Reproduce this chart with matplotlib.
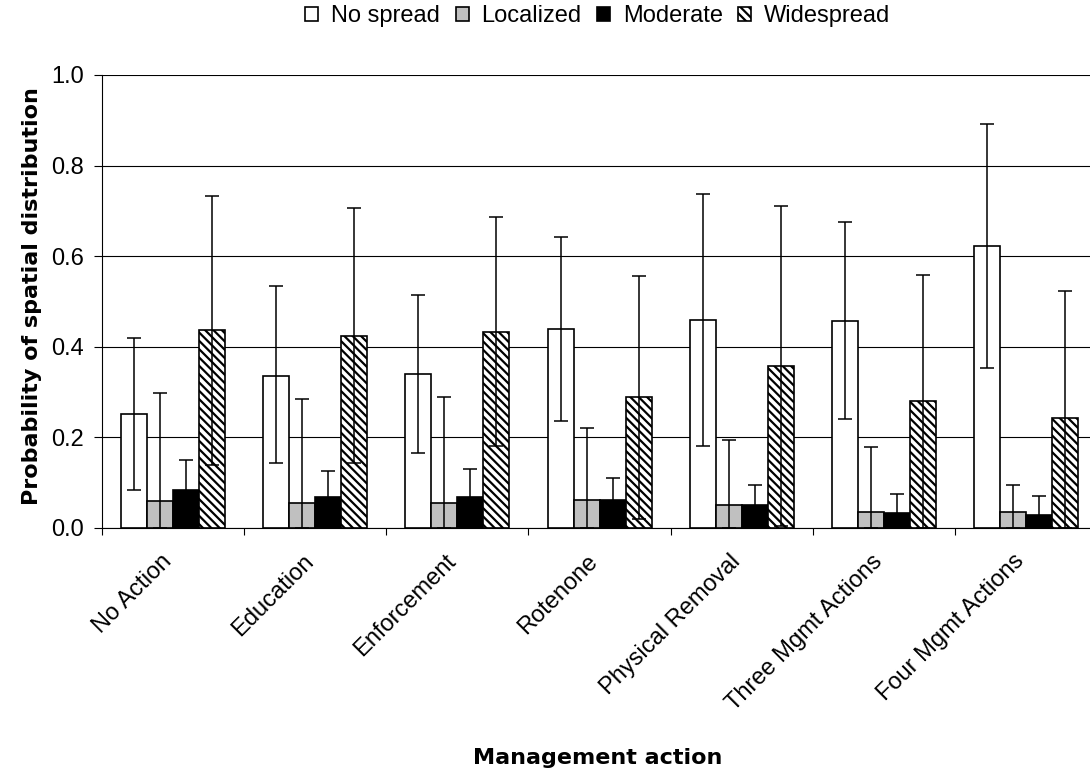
import numpy as np
import matplotlib
matplotlib.use("Agg")
from matplotlib import pyplot as plt

plt.rcParams["font.family"] = ["Liberation Sans", "DejaVu Sans"]
plt.rcParams["hatch.linewidth"] = 1.6

# data
actions = ["No Action", "Education", "Enforcement", "Rotenone",
           "Physical Removal", "Three Mgmt Actions", "Four Mgmt Actions"]
series = ["No spread", "Localized", "Moderate", "Widespread"]

no_spread = [0.252, 0.336, 0.340, 0.439, 0.459, 0.457, 0.623]
localized = [0.060, 0.055, 0.055, 0.062, 0.051, 0.036, 0.035]
moderate = [0.084, 0.068, 0.068, 0.062, 0.051, 0.032, 0.029]
widespread = [0.436, 0.424, 0.433, 0.289, 0.357, 0.281, 0.242]

# lower / upper bounds of the error bars
no_spread_lo = [0.084, 0.143, 0.166, 0.237, 0.182, 0.241, 0.353]
no_spread_hi = [0.419, 0.534, 0.514, 0.642, 0.737, 0.675, 0.892]
localized_lo = [0.0, 0.0, 0.0, 0.0, 0.0, 0.0, 0.0]
localized_hi = [0.297, 0.285, 0.289, 0.221, 0.194, 0.178, 0.095]
moderate_lo = [0.0, 0.0, 0.0, 0.0, 0.0, 0.0, 0.0]
moderate_hi = [0.150, 0.126, 0.130, 0.111, 0.095, 0.075, 0.071]
widespread_lo = [0.139, 0.143, 0.180, 0.020, 0.005, 0.0, 0.0]
widespread_hi = [0.733, 0.706, 0.686, 0.556, 0.711, 0.559, 0.523]

values = [no_spread, localized, moderate, widespread]
lows = [no_spread_lo, localized_lo, moderate_lo, widespread_lo]
highs = [no_spread_hi, localized_hi, moderate_hi, widespread_hi]
facecolors = ["white", "#c0c0c0", "black", "white"]
hatches = [None, None, None, "\\\\\\\\"]

fs = 17

fig = plt.figure(figsize=(10.9, 7.77), dpi=100)
ax = fig.add_axes([0.0936, 0.3205, 0.9129, 0.583])

x = np.arange(len(actions)) + 0.5
width = 0.183
handles = []
for i, (vals, lo, hi) in enumerate(zip(values, lows, highs)):
    vals = np.array(vals)
    pos = x + (i - 1.5) * width
    bars = ax.bar(pos, vals, width, color=facecolors[i], edgecolor="black",
                  linewidth=1.2, hatch=hatches[i], zorder=2, label=series[i])
    handles.append(bars)
    yerr = [vals - np.array(lo), np.array(hi) - vals]
    ax.errorbar(pos, vals, yerr=yerr, fmt="none", ecolor="black",
                elinewidth=1.1, capsize=4.7, capthick=1.1, zorder=3)

ax.set_xlim(0, len(actions))
ax.set_ylim(0, 1.0)
ax.set_yticks(np.arange(0, 1.01, 0.2))
ax.set_yticklabels([f"{v:.1f}" for v in np.arange(0, 1.01, 0.2)], fontsize=fs)
ax.yaxis.grid(True, color="black", linewidth=0.8, zorder=0)
ax.set_axisbelow(True)

# boundary ticks between groups; labels (invisible minor ticks) a bit left
# of the group centres so the rotated text ends where the reference's does
ax.set_xticks(np.arange(0, len(actions) + 1))
ax.set_xticklabels([])
ax.set_xticks(x - 0.09, minor=True)
ax.set_xticklabels(actions, minor=True, rotation=45, ha="right",
                   va="top", rotation_mode="anchor", fontsize=fs)
ax.tick_params(axis="x", which="minor", length=0, pad=16)
ax.tick_params(axis="x", which="major", length=5, width=0.8, direction="out")
ax.tick_params(axis="y", length=6, width=0.8, direction="out", pad=7)

for side in ["top", "right"]:
    ax.spines[side].set_visible(False)
ax.spines["left"].set_linewidth(0.8)
ax.spines["bottom"].set_linewidth(0.8)

ax.set_ylabel("Probability of spatial distribution", fontsize=16,
              fontweight="bold", family="DejaVu Sans")
ax.yaxis.set_label_coords(-0.060, 0.511)
ax.set_xlabel("Management action", fontsize=16, fontweight="bold",
              family="DejaVu Sans")
ax.xaxis.set_label_coords(0.4985, -0.485)

fig.legend(handles=handles, loc="center", bbox_to_anchor=(0.5486, 0.979),
           ncol=4, frameon=False, fontsize=fs, handlelength=0.55,
           handleheight=0.55, handletextpad=0.55, columnspacing=0.65)

fig.savefig("out.png", dpi=100)
